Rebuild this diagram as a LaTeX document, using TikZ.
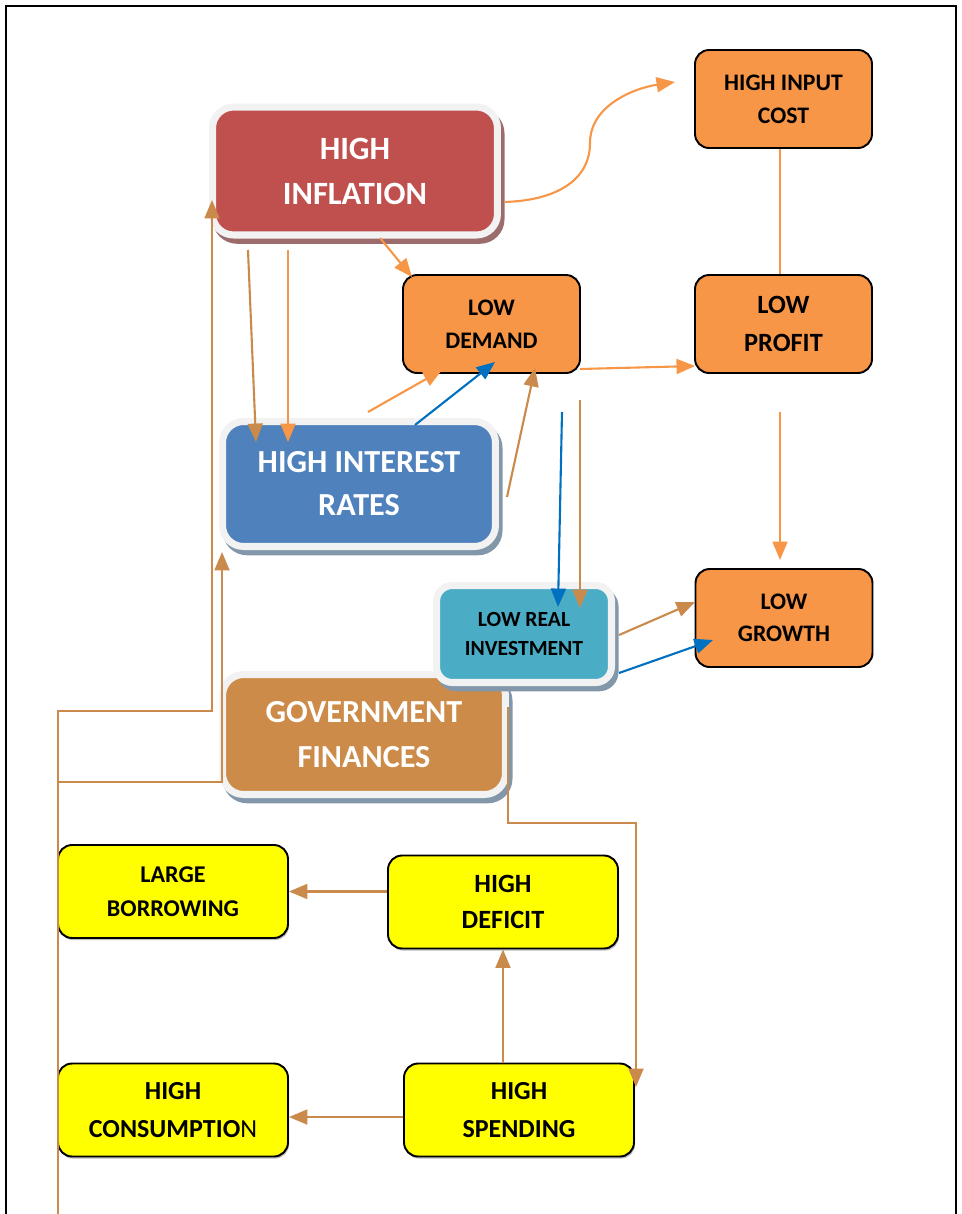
\documentclass[tikz,border=0pt]{standalone}
\usepackage{fontspec}
\setmainfont{Carlito}
\usetikzlibrary{arrows.meta,shadows}

\definecolor{inflred}{HTML}{C0504D}
\definecolor{rateblue}{HTML}{4F81BD}
\definecolor{invteal}{HTML}{4BACC6}
\definecolor{govtan}{HTML}{CC8B48}
\definecolor{boxorange}{HTML}{F79646}
\definecolor{boxyellow}{HTML}{FFFF00}
\definecolor{glowgrey}{HTML}{F2F2F2}
\definecolor{inflshade}{HTML}{9C6C6C}
\definecolor{blueshade}{HTML}{8298AA}
\definecolor{lineorange}{HTML}{F79646}
\definecolor{linetan}{HTML}{C98A4B}
\definecolor{lineblue}{HTML}{0070C0}

\begin{document}
\begin{tikzpicture}[
  x=0.02cm,y=-0.02cm,
  >={Triangle[length=10.5pt,width=8.5pt]},
  glowbox/.style 2 args={fill=#1,draw=glowgrey,line width=4pt,
    rounded corners=12pt,inner sep=0pt,align=center,text=white,
    general shadow={fill=#2,draw=#2,line width=4pt,
      shadow xshift=2pt,shadow yshift=-3pt}},
  plainbox/.style={fill=boxorange,draw=black,line width=1.1pt,
    rounded corners=8pt,inner sep=0pt,align=center,
    minimum width=3.54cm,minimum height=1.96cm},
  yellowbox/.style={plainbox,fill=boxyellow,
    minimum width=4.6cm,minimum height=1.86cm,
    general shadow={fill=black!25,shadow xshift=0.6pt,shadow yshift=-1.2pt}},
  txt/.style 2 args={font=\fontsize{#1}{#2}\selectfont\bfseries},
  orangelink/.style={draw=lineorange,line width=1.2pt},
  tanlink/.style={draw=linetan,line width=1.2pt},
  bluelink/.style={draw=lineblue,line width=1.2pt}
]
\useasboundingbox (0,0) rectangle (961,1214);

% page frame, open at the bottom
\draw[line width=1.4pt] (6,1214) -- (6,6) -- (956,6) -- (956,1214);

% shaded boxes
\node[glowbox={inflred}{inflshade},txt={18.5}{25.6},
  minimum width=5.7cm,minimum height=2.56cm] (infl) at (355,171)
  {HIGH\\INFLATION};
\node[glowbox={rateblue}{blueshade},txt={18.3}{24.5},
  minimum width=5.46cm,minimum height=2.5cm] (rates) at (359,484)
  {HIGH INTEREST\\RATES};
\node[glowbox={govtan}{blueshade},txt={18.3}{25.6},
  minimum width=5.66cm,minimum height=2.4cm] (gov) at (364,734.5)
  {GOVERNMENT\\FINANCES};
\node[glowbox={invteal}{blueshade},txt={12.3}{17},text=black,
  rounded corners=9pt,
  minimum width=3.5cm,minimum height=1.94cm] (invest) at (524,634)
  {LOW REAL\\INVESTMENT};

% orange boxes
\node[plainbox,txt={13.5}{18.8}] (cost) at (783.5,99) {HIGH INPUT\\COST};
\node[plainbox,txt={13.5}{18.8}] (demand) at (491.5,324) {LOW\\DEMAND};
\node[plainbox,txt={15}{21.6}] (profit) at (783.5,324) {LOW\\PROFIT};
\node[plainbox,txt={13.5}{18.2}] (growth) at (784,618) {LOW\\GROWTH};

% yellow boxes
\node[yellowbox,txt={13.7}{19.3}] (borrow) at (173,891.5) {LARGE\\BORROWING};
\node[yellowbox,txt={15}{20.5}] (deficit) at (503,902) {HIGH\\DEFICIT};
\node[yellowbox,txt={14.8}{21.6}] (consum) at (173,1110)
  {HIGH\\CONSUMPTIO\textmd{N}};
\node[yellowbox,txt={14.8}{21.6}] (spend) at (519,1110) {HIGH\\SPENDING};

% free ends of the links
\coordinate (inflOut) at (505,202);
\coordinate (costIn) at (675,82);
\coordinate (profitOut) at (780,412);
\coordinate (growthIn) at (780,560);
\coordinate (inflDemA) at (380,238);
\coordinate (demIn) at (412,277);
\coordinate (inflA) at (248,250);
\coordinate (ratesA) at (256,442);
\coordinate (inflB) at (288,250);
\coordinate (ratesB) at (288,442);
\coordinate (ratesOutA) at (368,412);
\coordinate (demInA) at (442,370);
\coordinate (ratesOutB) at (415,425);
\coordinate (demInB) at (495,362);
\coordinate (ratesOutC) at (507,497);
\coordinate (demInC) at (535,368);
\coordinate (demOut) at (580,369);
\coordinate (profitIn) at (695,366);
\coordinate (demOutA) at (562,412);
\coordinate (invInA) at (558,607);
\coordinate (demOutB) at (580,400);
\coordinate (invInB) at (580,608);
\coordinate (invOutA) at (619,635);
\coordinate (growInA) at (695,602);
\coordinate (invOutB) at (619,673);
\coordinate (growInB) at (713,640);
\coordinate (govOut) at (508,707);
\coordinate (spendIn) at (636,1087);
\coordinate (inflIn) at (212,200);
\coordinate (ratesIn) at (222,552);
\coordinate (loopBot) at (58,1214);

% links
\draw[orangelink,->] (inflOut) .. controls (560,200) and (590,178) .. (590,143)
  .. controls (590,105) and (635,88) .. (costIn);
\draw[orangelink] ([xshift=-2pt]cost.south) -- ([xshift=-2pt]profit.north);
\draw[orangelink,->] (profitOut) -- (growthIn);
\draw[orangelink,->] (inflDemA) -- (demIn);
\draw[tanlink,->] (inflA) -- (ratesA);
\draw[orangelink,->] (inflB) -- (ratesB);
\draw[orangelink,->] (ratesOutA) -- (demInA);
\draw[bluelink,->] (ratesOutB) -- (demInB);
\draw[tanlink,->] (ratesOutC) -- (demInC);
\draw[orangelink,->] (demOut) -- (profitIn);
\draw[bluelink,->] (demOutA) -- (invInA);
\draw[tanlink,->] (demOutB) -- (invInB);
\draw[tanlink,->] (invOutA) -- (growInA);
\draw[bluelink,->] (invOutB) -- (growInB);
\draw[tanlink,->] (govOut) |- (636,823) -- (spendIn);
\draw[tanlink,->] (loopBot) |- (212,711) -- (inflIn);
\draw[tanlink,->] (58,782) -| (ratesIn);
\draw[tanlink,->] (deficit.west |- borrow.east) -- (borrow.east);
\draw[tanlink,->] (spend.north -| deficit.south) -- (deficit.south);
\draw[tanlink,->] ([yshift=-4pt]spend.west) -- ([yshift=-4pt]consum.east);
\end{tikzpicture}
\end{document}
